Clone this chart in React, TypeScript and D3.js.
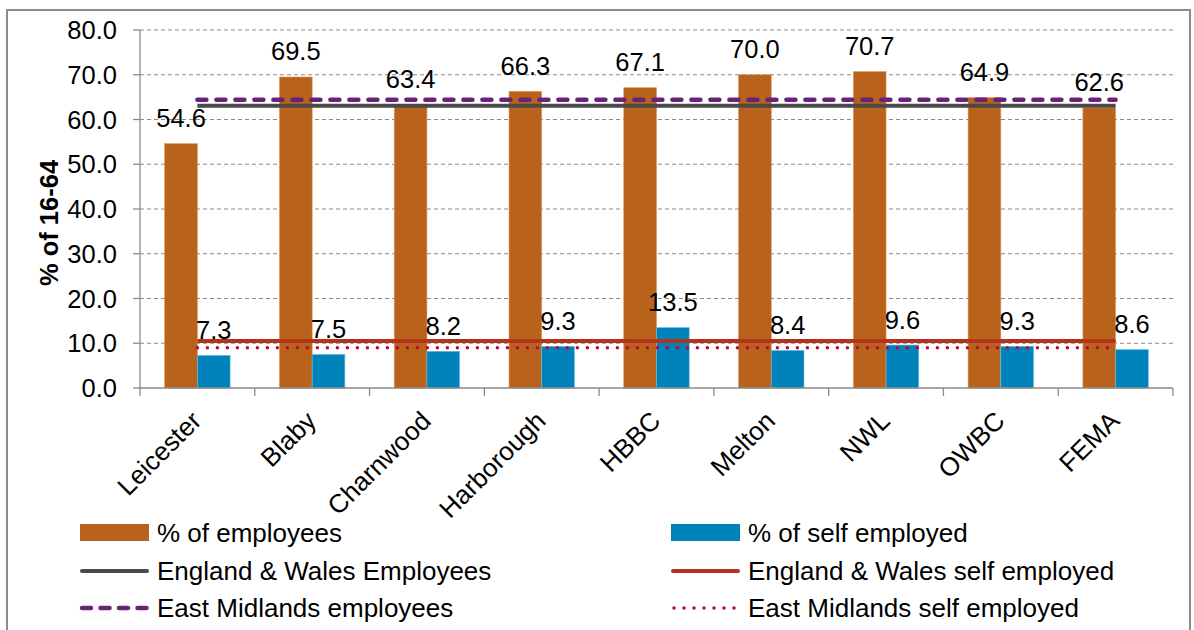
import React from "react";
import * as d3 from "d3";

const categories = ["Leicester", "Blaby", "Charnwood", "Harborough", "HBBC", "Melton", "NWL", "OWBC", "FEMA"];
const employees = [54.6, 69.5, 63.4, 66.3, 67.1, 70.0, 70.7, 64.9, 62.6];
const selfEmployed = [7.3, 7.5, 8.2, 9.3, 13.5, 8.4, 9.6, 9.3, 8.6];
const ewEmployees = [63.1, 63.1, 63.1, 63.1, 63.1, 63.1, 63.1, 63.1, 63.1];
const emEmployees = [64.4, 64.4, 64.4, 64.4, 64.4, 64.4, 64.4, 64.4, 64.4];
const ewSelf = [10.5, 10.5, 10.5, 10.5, 10.5, 10.5, 10.5, 10.5, 10.5];
const emSelf = [9.0, 9.0, 9.0, 9.0, 9.0, 9.0, 9.0, 9.0, 9.0];
const yTicks = [0, 10, 20, 30, 40, 50, 60, 70, 80];

const FONT = "'Liberation Sans', Arial, sans-serif";
const C_EMP = "#B8621B";
const C_SELF = "#0083BB";
const C_EW_EMP = "#4A4A4A";
const C_EM_EMP = "#6A2277";
const C_EW_SELF = "#B3331B";
const C_EM_SELF = "#C0043C";

export default function App() {
  const W = 1194, H = 630;
  const left = 140, right = 1173, top = 30, bottom = 388;
  const x = d3.scaleBand<string>().domain(categories).range([left, right]).paddingInner(0).paddingOuter(0);
  const y = d3.scaleLinear().domain([0, 80]).range([bottom, top]);
  const bw = x.bandwidth();
  const barW = bw * 0.285;
  const gap = (bw - 2 * barW) / 2;
  const cx = (c: string) => (x(c) as number) + bw / 2;
  const lineGen = (vals: number[]) =>
    d3.line<number>().x((_, i) => cx(categories[i])).y((v) => y(v))(vals) as string;

  const legend = [
    { label: "% of employees", kind: "rect", color: C_EMP, col: 0, row: 0 },
    { label: "% of self employed", kind: "rect", color: C_SELF, col: 1, row: 0 },
    { label: "England & Wales Employees", kind: "solid", color: C_EW_EMP, col: 0, row: 1 },
    { label: "England & Wales self employed", kind: "solid", color: C_EW_SELF, col: 1, row: 1 },
    { label: "East Midlands employees", kind: "dash", color: C_EM_EMP, col: 0, row: 2 },
    { label: "East Midlands self employed", kind: "dot", color: C_EM_SELF, col: 1, row: 2 },
  ];
  const legX = [80, 671];
  const legY = [533, 571, 608];

  return (
    <svg width={W} height={H} style={{ position: "absolute", left: 0, top: 0 }} fontFamily={FONT}>
      <rect x={0} y={0} width={W} height={H} fill="#fff" />
      <rect x={7} y={10} width={1183} height={640} fill="none" stroke="#8c8c8c" strokeWidth={2} />
      {/* gridlines */}
      {yTicks.filter((t) => t > 0).map((t) => (
        <line key={t} x1={left} x2={right} y1={y(t)} y2={y(t)} stroke="#8a8a8a" strokeWidth={1} strokeDasharray="4 3" />
      ))}
      {/* y axis */}
      <line x1={left} x2={left} y1={top} y2={bottom} stroke="#8a8a8a" strokeWidth={1.3} />
      {yTicks.map((t) => (
        <g key={t}>
          <line x1={left - 7} x2={left} y1={y(t)} y2={y(t)} stroke="#8a8a8a" strokeWidth={1.3} />
          <text x={117} y={y(t)} dy="0.36em" textAnchor="end" fontSize={25.5} fill="#000">{t.toFixed(1)}</text>
        </g>
      ))}
      <text transform={`translate(49,223) rotate(-90)`} textAnchor="middle" dy="0.35em" fontSize={25.5} fontWeight="bold" fill="#000">% of 16-64</text>
      {/* bars */}
      {categories.map((c, i) => (
        <g key={c}>
          <rect x={(x(c) as number) + gap} y={y(employees[i])} width={barW} height={bottom - y(employees[i])} fill={C_EMP} stroke="#d99a60" strokeWidth={0.6} />
          <rect x={(x(c) as number) + gap + barW} y={y(selfEmployed[i])} width={barW} height={bottom - y(selfEmployed[i])} fill={C_SELF} stroke="#6fbde0" strokeWidth={0.6} />
        </g>
      ))}
      {/* x axis */}
      <line x1={left} x2={right} y1={bottom} y2={bottom} stroke="#8a8a8a" strokeWidth={1.3} />
      {d3.range(categories.length + 1).map((i) => (
        <line key={i} x1={left + i * bw} x2={left + i * bw} y1={bottom} y2={bottom + 8} stroke="#8a8a8a" strokeWidth={1.3} />
      ))}
      {/* reference lines */}
      <path d={lineGen(emEmployees)} fill="none" stroke={C_EM_EMP} strokeWidth={4.5} strokeDasharray="9 10" strokeLinecap="round" />
      <path d={lineGen(ewEmployees)} fill="none" stroke={C_EW_EMP} strokeWidth={4} />
      <path d={lineGen(ewSelf)} fill="none" stroke={C_EW_SELF} strokeWidth={4} />
      <path d={lineGen(emSelf)} fill="none" stroke={C_EM_SELF} strokeWidth={3.5} strokeDasharray="0 10" strokeLinecap="round" />
      {/* value labels */}
      {categories.map((c, i) => (
        <g key={c}>
          <text x={(x(c) as number) + gap + barW / 2} y={y(employees[i]) - 16.5} textAnchor="middle" fontSize={25.5} fill="#000">{employees[i].toFixed(1)}</text>
          <text x={(x(c) as number) + gap + barW * 1.5} y={y(selfEmployed[i]) - 16.5} textAnchor="middle" fontSize={25.5} fill="#000">{selfEmployed[i].toFixed(1)}</text>
        </g>
      ))}
      {/* x labels */}
      {categories.map((c) => (
        <text key={c} transform={`translate(${cx(c) - 1},416) rotate(-45)`} textAnchor="end" dy="0.35em" fontSize={26} fill="#000">{c}</text>
      ))}
      {/* legend */}
      {legend.map((l) => {
        const lx = legX[l.col], ly = legY[l.row];
        return (
          <g key={l.label}>
            {l.kind === "rect" && <rect x={lx} y={ly - 9} width={69} height={17} fill={l.color} />}
            {l.kind === "solid" && <line x1={lx + 2} x2={lx + 67} y1={ly} y2={ly} stroke={l.color} strokeWidth={4} strokeLinecap="round" />}
            {l.kind === "dash" && <line x1={lx + 2} x2={lx + 67} y1={ly} y2={ly} stroke={l.color} strokeWidth={4.5} strokeDasharray="9 9.5" strokeLinecap="round" />}
            {l.kind === "dot" && <line x1={lx + 3} x2={lx + 67} y1={ly} y2={ly} stroke={l.color} strokeWidth={3.5} strokeDasharray="0 10" strokeLinecap="round" />}
            <text x={lx + 77} y={ly} dy="0.36em" fontSize={26} fill="#000">{l.label}</text>
          </g>
        );
      })}
    </svg>
  );
}
